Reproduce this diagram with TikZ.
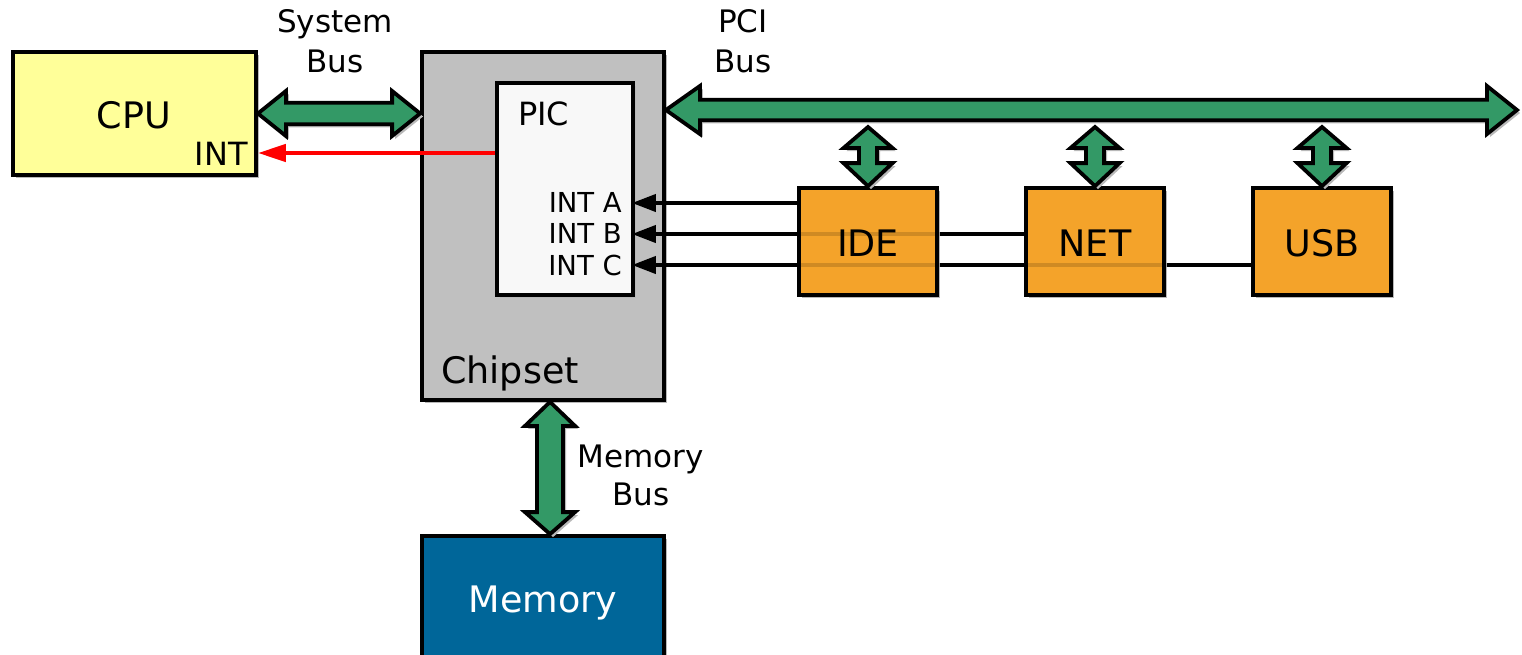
\documentclass[tikz,border=0pt]{standalone}
\usepackage{fontspec}
\setmainfont{DejaVu Sans}
\usetikzlibrary{arrows.meta,calc,shadows}
\definecolor{cpufill}{HTML}{FFFF99}
\definecolor{chipfill}{HTML}{C0C0C0}
\definecolor{picfill}{HTML}{F8F8F8}
\definecolor{busgreen}{HTML}{339966}
\definecolor{devorange}{HTML}{F4A32A}
\definecolor{memblue}{HTML}{006699}
\tikzset{
  shadowed/.style={drop shadow={shadow xshift=3pt,shadow yshift=-3pt,fill=black!28,opacity=1}},
  box/.style={draw=black,line width=3.8pt,inner sep=0pt,shadowed},
  devbox/.style={box,fill=devorange,minimum width=138pt,minimum height=107pt},
  bus/.style={draw=black,fill=busgreen,line width=3.8pt,line join=miter,shadowed},
  intline/.style={draw=black,line width=4pt,-{Triangle[length=24pt,width=17pt]},shorten >=-3pt},
  intband/.style={draw=black,draw opacity=0.15,line width=4pt,shorten >=30pt},
  redline/.style={draw=red,line width=4.5pt,-{Triangle[length=28pt,width=17pt]}},
  big/.style={font=\fontsize{36.5}{44}\selectfont,inner sep=0pt},
  mid/.style={font=\fontsize{32}{40}\selectfont,inner sep=0pt},
  small/.style={font=\fontsize{27.5}{31}\selectfont,inner sep=0pt},
  lab/.style={font=\fontsize{31}{40}\selectfont,inner sep=0pt,align=center},
}
% horizontal double arrow: #1 left tip, #2 right tip, #3 shaft half, #4 head half, #5 left head length, #6 right head length
\newcommand\hbus[6]{\draw[bus] let \p1=#1, \p2=#2 in
  (\x1,\y1) -- (\x1+#5pt,\y1+#4pt) -- (\x1+#5pt,\y1+#3pt) -- (\x2-#6pt,\y2+#3pt) -- (\x2-#6pt,\y2+#4pt) -- (\x2,\y2)
  -- (\x2-#6pt,\y2-#4pt) -- (\x2-#6pt,\y2-#3pt) -- (\x1+#5pt,\y1-#3pt) -- (\x1+#5pt,\y1-#4pt) -- cycle;}
% vertical double arrow: #1 top tip, #2 bottom tip
\newcommand\vbus[6]{\draw[bus] let \p1=#1, \p2=#2 in
  (\x1,\y1) -- (\x1+#4pt,\y1-#5pt) -- (\x1+#3pt,\y1-#5pt) -- (\x2+#3pt,\y2+#6pt) -- (\x2+#4pt,\y2+#6pt) -- (\x2,\y2)
  -- (\x2-#4pt,\y2+#6pt) -- (\x2-#3pt,\y2+#6pt) -- (\x1-#3pt,\y1-#5pt) -- (\x1-#4pt,\y1-#5pt) -- cycle;}
\begin{document}
\begin{tikzpicture}[x=1pt,y=-1pt]
\useasboundingbox (0,0) rectangle (1522,654);
% boxes
\node[box,fill=chipfill,minimum width=242pt,minimum height=348pt] (chip) at (543,226) {};
\node[box,fill=picfill,minimum width=136pt,minimum height=212pt] (pic) at (565,189) {};
\node[box,fill=cpufill,minimum width=243pt,minimum height=123pt] (cpu) at (134.5,113.5) {};
\node[box,fill=memblue,minimum width=242pt,minimum height=140pt] (mem) at (543,606) {};
% interrupt lines (behind device boxes)
\path (868,241.5) coordinate (idec) (1095,241.5) coordinate (netc) (1322,241.5) coordinate (usbc);
\draw[intline] (idec -| 799,0) |- (0,203 -| pic.east);
\draw[intline] (netc -| 1026,0) |- (0,234 -| pic.east);
\draw[intline] (usbc -| 1253,0) |- (0,265 -| pic.east);
% device boxes
\node[devbox] (ide) at (idec) {};
\node[devbox] (net) at (netc) {};
\node[devbox] (usb) at (usbc) {};
% lines seen through the device boxes
\draw[intband] (net.west |- 0,234) -- (pic.east |- 0,234);
\draw[intband] (usb.west |- 0,265) -- (pic.east |- 0,265);
% buses
\hbus{(cpu.east)}{(cpu.east -| chip.west)}{10.75}{22.5}{28}{28}
\hbus{(chip.east |- 0,110)}{(1517,110)}{10.25}{24}{34}{30}
\vbus{(ide.north |- 0,127)}{(ide.north)}{9}{24.5}{21}{23}
\vbus{(net.north |- 0,127)}{(net.north)}{9}{24.5}{21}{23}
\vbus{(usb.north |- 0,127)}{(usb.north)}{9}{24.5}{21}{23}
\vbus{(chip.south -| 550,0)}{(mem.north -| 550,0)}{13}{25}{24}{22}
% interrupt to CPU
\draw[redline] (pic.west |- 0,153) -- (cpu.east |- 0,153);
% texts
\node[big,anchor=base] (tcpu) at (134,128) {CPU};
\node[mid,anchor=base east] (tint) at (248,165) {INT};
\node[mid,anchor=base west] (tpic) at (518,125) {PIC};
\node[small,anchor=base east] (tia) at (622,212) {INT A};
\node[small,anchor=base east] (tib) at (622,243) {INT B};
\node[small,anchor=base east] (tic) at (622,275) {INT C};
\node[big,anchor=base west] (tchip) at (441,383) {Chipset};
\node[big,anchor=base] (tide) at (868,256) {IDE};
\node[big,anchor=base] (tnet) at (1095,256) {NET};
\node[big,anchor=base] (tusb) at (1322,256) {USB};
\node[big,anchor=base,text=white] (tmem) at (543,612) {Memory};
\node[lab] (lsys) at (335,41.5) {System\\Bus};
\node[lab] (lpci) at (743,41.5) {PCI\\Bus};
\node[lab,font=\fontsize{31}{38}\selectfont] (lmem) at (641,475.5) {Memory\\Bus};
\end{tikzpicture}
\end{document}
